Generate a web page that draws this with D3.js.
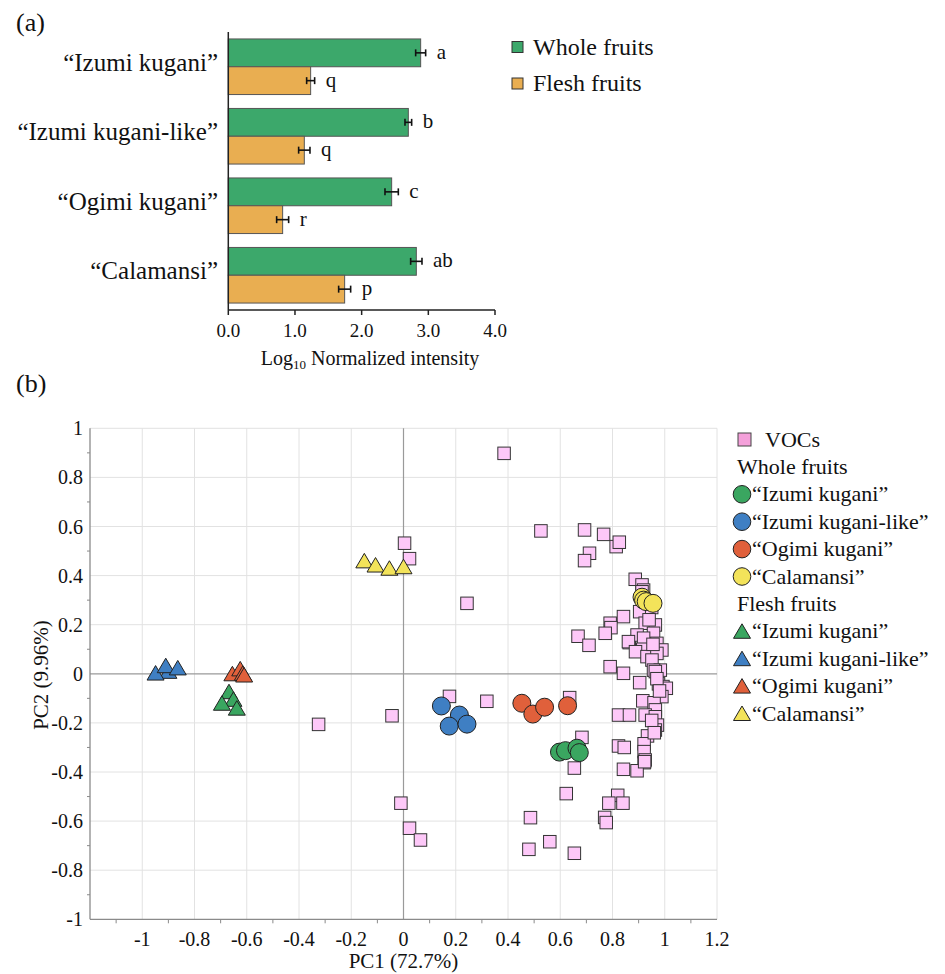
<!DOCTYPE html>
<html>
<head>
<meta charset="utf-8">
<script src="https://cdn.jsdelivr.net/npm/d3@7"></script>
</head>
<body style="margin:0;padding:0;background:#fff">
<svg id="chart" width="945" height="974" style="display:block"></svg>
<script>
// ---------- Panel (a) data ----------
const categories = ["“Izumi kugani”", "“Izumi kugani-like”", "“Ogimi kugani”", "“Calamansi”"];
const seriesNames = ["Whole fruits", "Flesh fruits"];
const wholeValues = [2.885, 2.70, 2.45, 2.82];
const wholeErrors = [0.075, 0.05, 0.10, 0.085];
const fleshValues = [1.235, 1.14, 0.815, 1.745];
const fleshErrors = [0.06, 0.085, 0.09, 0.09];
const wholeLetters = ["a", "b", "c", "ab"];
const fleshLetters = ["q", "q", "r", "p"];
const barTicks = [0, 1, 2, 3, 4];

// ---------- Panel (b) data ----------
const pcTicksX = [-1, -0.8, -0.6, -0.4, -0.2, 0, 0.2, 0.4, 0.6, 0.8, 1, 1.2];
const pcTicksY = [-1, -0.8, -0.6, -0.4, -0.2, 0, 0.2, 0.4, 0.6, 0.8, 1];
const vocPoints = [
  [0.385, 0.898], [0.004, 0.532], [0.023, 0.469],
  [0.526, 0.582], [0.693, 0.586], [0.766, 0.568], [0.814, 0.518], [0.826, 0.536], [0.712, 0.491], [0.693, 0.461],
  [0.243, 0.287], [0.887, 0.385], [0.913, 0.362], [0.919, 0.341], [0.913, 0.334],
  [0.842, 0.233], [0.791, 0.206], [0.794, 0.188], [0.772, 0.165], [0.668, 0.153], [0.71, 0.116], [0.864, 0.127],
  [0.904, 0.253], [0.925, 0.206], [0.964, 0.199], [0.957, 0.165], [0.894, 0.158], [0.861, 0.131], [0.97, 0.124],
  [0.919, 0.145], [0.916, 0.100], [0.989, 0.097], [0.888, 0.090], [0.932, 0.070], [0.97, 0.083], [0.951, 0.056],
  [0.95, 0.27], [0.94, 0.22], [0.955, 0.12],
  [0.791, 0.029], [0.983, 0.015], [0.957, 0.015], [0.842, 0.002], [0.964, 0.009],
  [0.904, -0.036], [0.976, -0.041], [0.993, -0.052], [1.006, -0.059], [0.989, -0.093], [0.916, -0.110], [0.959, -0.118],
  [0.964, -0.147], [0.97, -0.02], [0.98, -0.07],
  [0.823, -0.168], [0.865, -0.168], [0.925, -0.168], [0.964, -0.175], [0.972, -0.209], [0.964, -0.229],
  [0.934, -0.253], [0.921, -0.285], [0.823, -0.294], [0.845, -0.300], [0.921, -0.317], [0.925, -0.351], [0.921, -0.362],
  [0.842, -0.389], [0.894, -0.395], [0.923, -0.358], [0.95, -0.19], [0.96, -0.24],
  [0.176, -0.092], [0.319, -0.112], [0.636, -0.097],
  [-0.044, -0.171], [-0.325, -0.206],
  [0.683, -0.259], [0.654, -0.384], [0.623, -0.488], [0.486, -0.586], [0.48, -0.715], [0.56, -0.684], [0.654, -0.731],
  [-0.01, -0.527], [0.023, -0.629], [0.065, -0.677],
  [0.82, -0.495], [0.786, -0.527], [0.84, -0.527], [0.77, -0.585], [0.776, -0.606]
];
const wholeIzumi = [[0.597, -0.319], [0.62, -0.313], [0.664, -0.303], [0.673, -0.321]];
const wholeIzumiLike = [[0.145, -0.131], [0.214, -0.168], [0.175, -0.213], [0.243, -0.205]];
const wholeOgimi = [[0.453, -0.120], [0.495, -0.164], [0.540, -0.136], [0.628, -0.130]];
const wholeCalamansi = [[0.913, 0.312], [0.919, 0.300], [0.929, 0.294], [0.955, 0.287]];
const fleshIzumi = [[-0.668, -0.073], [-0.651, -0.104], [-0.695, -0.120], [-0.638, -0.140]];
const fleshIzumiLike = [[-0.90, 0.010], [-0.949, 0.003], [-0.91, 0.033], [-0.864, 0.024]];
const fleshOgimi = [[-0.655, 0.000], [-0.625, 0.020], [-0.615, 0.002], [-0.610, -0.005]];
const fleshCalamansi = [[-0.150, 0.460], [-0.107, 0.443], [-0.054, 0.430], [0.000, 0.436]];
const groupColors = ["#3aa660", "#3f7fc3", "#e0603b", "#f3e35a"];
const vocColor = "#fdc8f8";

// ---------- Drawing ----------
const FONT = "Liberation Serif";
const svg = d3.select("#chart");
const txt = (g, x, y, size, s) => g.append("text").attr("x", x).attr("y", y)
  .attr("font-size", size).attr("font-family", FONT).style("font-family", "'Liberation Serif'")
  .attr("fill", "#111").text(s);

// ===== Panel (a) =====
const barColors = ["#3ca86b", "#e9ae51"];
const xBar = d3.scaleLinear().domain([0, 4]).range([228.3, 495]);
const yBand = d3.scaleBand().domain(categories).range([32, 310]).paddingInner(0.2).paddingOuter(0.1);
const ySub = d3.scaleBand().domain(seriesNames).range([0, yBand.bandwidth()]);

txt(svg, 16, 31, 26, "(a)");

const gA = svg.append("g");
categories.forEach((cat, i) => {
  const rows = [
    { s: seriesNames[0], v: wholeValues[i], e: wholeErrors[i], l: wholeLetters[i], c: barColors[0] },
    { s: seriesNames[1], v: fleshValues[i], e: fleshErrors[i], l: fleshLetters[i], c: barColors[1] }
  ];
  rows.forEach(r => {
    const y0 = yBand(cat) + ySub(r.s);
    const h = ySub.bandwidth();
    const yc = y0 + h / 2;
    gA.append("rect").attr("x", xBar(0)).attr("y", y0)
      .attr("width", xBar(r.v) - xBar(0)).attr("height", h)
      .attr("fill", r.c).attr("stroke", "#555").attr("stroke-width", 1);
    const xl = xBar(r.v - r.e), xr = xBar(r.v + r.e);
    gA.append("line").attr("x1", xl).attr("x2", xr).attr("y1", yc).attr("y2", yc)
      .attr("stroke", "#111").attr("stroke-width", 1.6);
    [xl, xr].forEach(xx => gA.append("line").attr("x1", xx).attr("x2", xx)
      .attr("y1", yc - 3.5).attr("y2", yc + 3.5).attr("stroke", "#111").attr("stroke-width", 1.6));
    txt(gA, xr + 11, yc + 6, 21, r.l);
  });
  txt(gA, 218, yBand(cat) + yBand.bandwidth() / 2 + 4, 25, cat).attr("text-anchor", "end");
});

// axes (a)
gA.append("line").attr("x1", xBar(0)).attr("x2", xBar(0)).attr("y1", 32).attr("y2", 310)
  .attr("stroke", "#222").attr("stroke-width", 1.5);
gA.append("line").attr("x1", xBar(0)).attr("x2", xBar(4)).attr("y1", 310).attr("y2", 310)
  .attr("stroke", "#222").attr("stroke-width", 1.5);
barTicks.forEach(t => {
  gA.append("line").attr("x1", xBar(t)).attr("x2", xBar(t)).attr("y1", 310).attr("y2", 315)
    .attr("stroke", "#222").attr("stroke-width", 1.5);
  txt(gA, xBar(t), 337, 19, d3.format(".1f")(t)).attr("text-anchor", "middle");
});
const tA = txt(gA, 370, 365, 20, null).attr("text-anchor", "middle");
tA.append("tspan").text("Log");
tA.append("tspan").attr("font-size", 13).attr("dy", 4).text("10");
tA.append("tspan").attr("dy", -4).text(" Normalized intensity");

// legend (a)
seriesNames.forEach((s, i) => {
  const yc = 47 + i * 36.5;
  gA.append("rect").attr("x", 512).attr("y", yc - 5.5).attr("width", 11).attr("height", 11)
    .attr("fill", barColors[i]).attr("stroke", "#333").attr("stroke-width", 1);
  txt(gA, 533, yc + 7.5, 24, s);
});

// ===== Panel (b) =====
txt(svg, 16, 392, 26, "(b)");

const xS = d3.scaleLinear().domain([-1.2, 1.2]).range([90, 717]);
const yS = d3.scaleLinear().domain([-1, 1]).range([919.3, 428.3]);
const gB = svg.append("g");

// grid
pcTicksX.filter(t => t !== 0).forEach(t => gB.append("line")
  .attr("x1", xS(t)).attr("x2", xS(t)).attr("y1", yS(1)).attr("y2", yS(-1))
  .attr("stroke", "#e2e2e2").attr("stroke-width", 1));
pcTicksY.filter(t => t !== 0 && t !== -1).forEach(t => gB.append("line")
  .attr("x1", xS(-1.2)).attr("x2", xS(1.2)).attr("y1", yS(t)).attr("y2", yS(t))
  .attr("stroke", "#e2e2e2").attr("stroke-width", 1));
// zero lines
gB.append("line").attr("x1", xS(0)).attr("x2", xS(0)).attr("y1", yS(1)).attr("y2", yS(-1))
  .attr("stroke", "#9a9a9a").attr("stroke-width", 1.2);
gB.append("line").attr("x1", xS(-1.2)).attr("x2", xS(1.2)).attr("y1", yS(0)).attr("y2", yS(0))
  .attr("stroke", "#9a9a9a").attr("stroke-width", 1.2);
// axes
gB.append("line").attr("x1", xS(-1.2)).attr("x2", xS(-1.2)).attr("y1", yS(1)).attr("y2", yS(-1))
  .attr("stroke", "#8a8a8a").attr("stroke-width", 1.3);
gB.append("line").attr("x1", xS(-1.2)).attr("x2", xS(1.2)).attr("y1", yS(-1)).attr("y2", yS(-1))
  .attr("stroke", "#8a8a8a").attr("stroke-width", 1.3);
// minor ticks
d3.range(-11, 12, 2).forEach(k => gB.append("line")
  .attr("x1", xS(k / 10)).attr("x2", xS(k / 10)).attr("y1", yS(-1)).attr("y2", yS(-1) + 4)
  .attr("stroke", "#8a8a8a"));
d3.range(-9, 10, 2).forEach(k => gB.append("line")
  .attr("x1", xS(-1.2) - 3).attr("x2", xS(-1.2)).attr("y1", yS(k / 10)).attr("y2", yS(k / 10))
  .attr("stroke", "#8a8a8a"));
// tick labels
pcTicksX.forEach(t => txt(gB, xS(t), 946, 20, String(+t.toFixed(1))).attr("text-anchor", "middle"));
pcTicksY.forEach(t => txt(gB, 83, yS(t) + 7, 20, String(+t.toFixed(1))).attr("text-anchor", "end"));
txt(gB, xS(0), 968, 21, "PC1 (72.7%)").attr("text-anchor", "middle");
txt(gB, 0, 0, 21, "PC2 (9.96%)").attr("text-anchor", "middle")
  .attr("transform", "translate(48,675) rotate(-90)");

// markers
const sq = 12.5;
gB.selectAll("rect.voc").data(vocPoints).join("rect").attr("class", "voc")
  .attr("x", d => xS(d[0]) - sq / 2).attr("y", d => yS(d[1]) - sq / 2)
  .attr("width", sq).attr("height", sq)
  .attr("fill", vocColor).attr("stroke", "#333").attr("stroke-width", 1);

const triPath = "M0,-7.5L8.5,7L-8.5,7Z";
const fleshGroups = [fleshIzumi, fleshIzumiLike, fleshOgimi, fleshCalamansi];
const wholeGroups = [wholeIzumi, wholeIzumiLike, wholeOgimi, wholeCalamansi];
fleshGroups.forEach((g, i) => gB.selectAll(null).data(g).join("path")
  .attr("d", triPath).attr("transform", d => `translate(${xS(d[0])},${yS(d[1])})`)
  .attr("fill", groupColors[i]).attr("stroke", "#222").attr("stroke-width", 1));
wholeGroups.forEach((g, i) => gB.selectAll(null).data(g).join("circle")
  .attr("cx", d => xS(d[0])).attr("cy", d => yS(d[1])).attr("r", 9)
  .attr("fill", groupColors[i]).attr("stroke", "#222").attr("stroke-width", 1));

// legend (b)
const legY = i => 439.5 + i * 27.4;
gB.append("rect").attr("x", 738).attr("y", legY(0) - 6.5).attr("width", 13).attr("height", 13)
  .attr("fill", "#f4a0da").attr("stroke", "#444");
txt(gB, 765, legY(0) + 7, 22, "VOCs");
txt(gB, 737, legY(1) + 7, 22, seriesNames[0]);
categories.forEach((c, i) => {
  gB.append("circle").attr("cx", 742).attr("cy", legY(2 + i)).attr("r", 8.8)
    .attr("fill", groupColors[i]).attr("stroke", "#222");
  txt(gB, 752, legY(2 + i) + 7, 22, c);
});
txt(gB, 737, legY(6) + 7, 22, seriesNames[1]);
categories.forEach((c, i) => {
  gB.append("path").attr("d", triPath).attr("transform", `translate(742,${legY(7 + i)})`)
    .attr("fill", groupColors[i]).attr("stroke", "#222");
  txt(gB, 752, legY(7 + i) + 7, 22, c);
});
</script>
</body>
</html>
